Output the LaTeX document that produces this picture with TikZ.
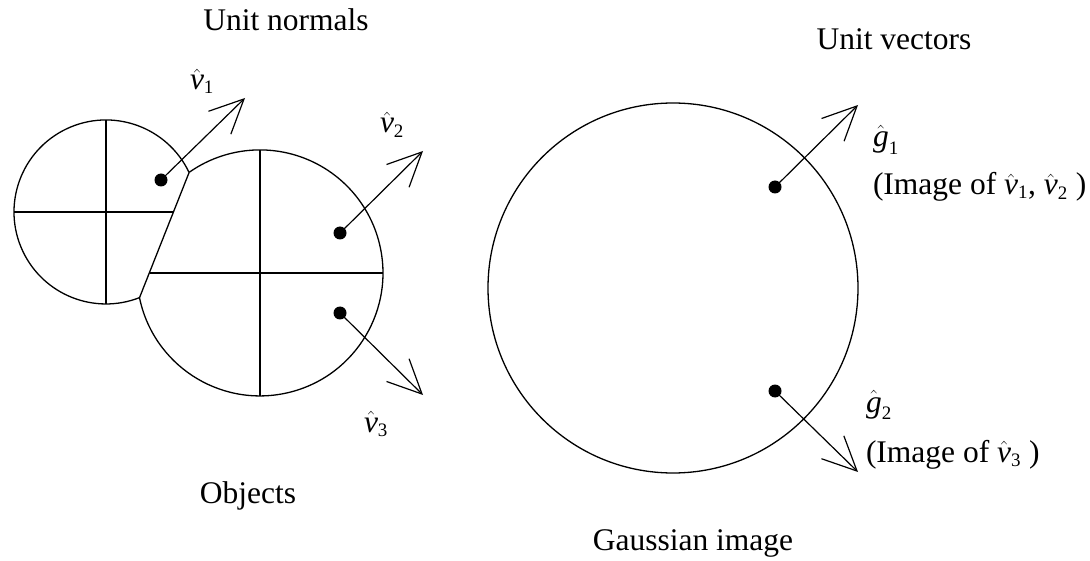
\documentclass[tikz,border=0pt]{standalone}
\usepackage{amsmath}
\usepackage{fontspec}
\setmainfont{Liberation Serif}
\usetikzlibrary{arrows.meta}
\newcommand{\hv}[2]{$\hat{\textit{#1}}_{\text{\fontsize{19}{22}\selectfont #2}}$}
\begin{document}
\begin{tikzpicture}[x=1pt,y=1pt,
  every node/.style={font=\fontsize{31.5}{38}\selectfont, inner sep=0pt, outer sep=0pt},
  outline/.style={line width=1.3pt, black},
  dot/.style={circle, fill=black, draw=none, inner sep=0pt, minimum size=13pt},
  vec/.style={line width=1.2pt, -{Straight Barb[length=34pt,width=32pt,line width=1.2pt]}},
  lbl/.style={anchor=base west},
  ttl/.style={anchor=base}]
\useasboundingbox (0,0) rectangle (1090,-561);

% ---- Objects (two overlapping discs) ----
\coordinate (A) at (189.1,-172.5);
\coordinate (B) at (139.5,-297.7);
\draw[outline] (A) arc[start angle=25.4, end angle=291.35, radius=92]
  arc[start angle=191.6, end angle=485.2, radius=123];
\draw[outline] (A) -- (B);
% small disc cross
\coordinate (s1) at (106,-120);
\coordinate (s2) at (106,-304);
\coordinate (s3) at (14,-212);
\coordinate (s4) at (173.4,-212);
\draw[outline] (s1) -- (s2);
\draw[outline] (s3) -- (s4);
% big disc cross
\coordinate (b1) at (260,-150);
\coordinate (b2) at (260,-396);
\coordinate (b3) at (149.7,-273);
\coordinate (b4) at (383,-273);
\draw[outline] (b1) -- (b2);
\draw[outline] (b3) -- (b4);

% normals
\node[dot] (d1) at (161,-180) {};
\node[dot] (d2) at (340,-233) {};
\node[dot] (d3) at (340,-313) {};
\coordinate (t1) at (245,-98);
\coordinate (t2) at (423,-151);
\coordinate (t3) at (423,-395);
\draw[vec] (d1.center) -- (t1);
\draw[vec] (d2.center) -- (t2);
\draw[vec] (d3.center) -- (t3);

\node[lbl] (lv1) at (190,-90) {\hv{v}{1}};
\node[lbl] (lv2) at (380,-133) {\hv{v}{2}};
\node[lbl] (lv3) at (364,-432) {\hv{v}{3}};

\node[ttl] (un) at (286,-31) {Unit normals};
\node[ttl] (ob) at (248,-503) {Objects};

% ---- Gaussian image ----
\node[circle, draw, line width=1.3pt, minimum size=370pt] (gs) at (673,-288) {};
\node[dot] (g1) at (775,-187) {};
\node[dot] (g2) at (775,-391) {};
\coordinate (u1) at (858,-105);
\coordinate (u2) at (858,-472);
\draw[vec] (g1.center) -- (u1);
\draw[vec] (g2.center) -- (u2);

\node[lbl] (lg1) at (873,-147) {\hv{g}{1}};
\node[lbl] (im1) at (873,-195) {(Image of \hv{v}{1}, \hv{v}{2} )};
\node[lbl] (lg2) at (866,-412) {\hv{g}{2}};
\node[lbl] (im2) at (866,-462) {(Image of \hv{v}{3} )};

\node[ttl] (uv) at (894,-50) {Unit vectors};
\node[ttl] (gi) at (693,-550) {Gaussian image};
\end{tikzpicture}
\end{document}
